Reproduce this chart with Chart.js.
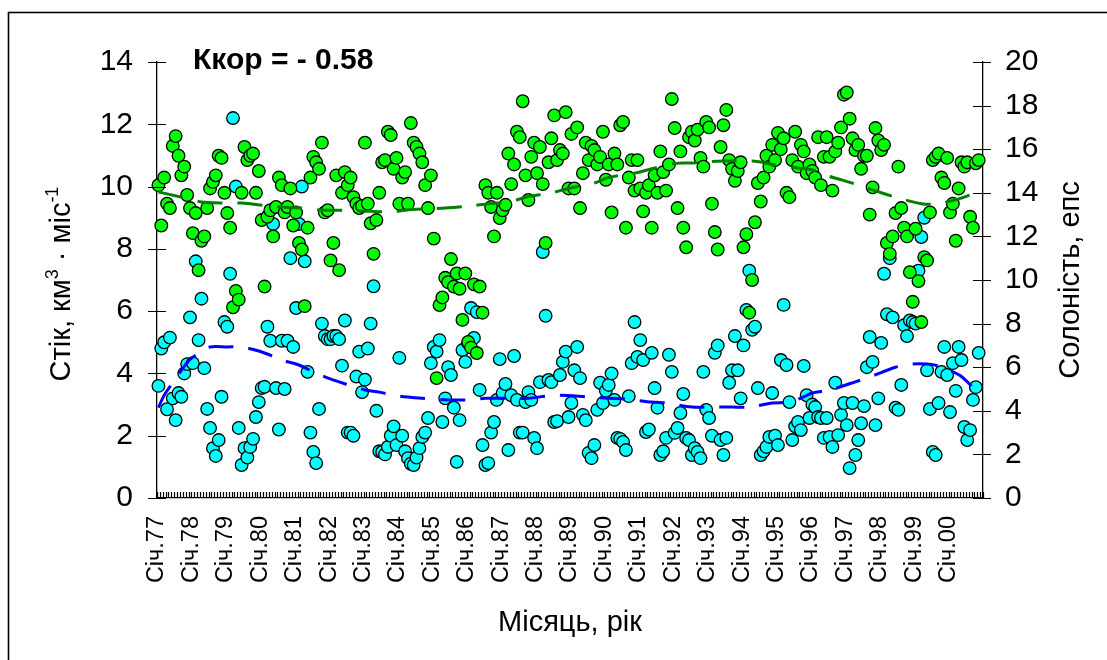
<!DOCTYPE html>
<html>
<head>
<meta charset="utf-8">
<script src="https://cdn.jsdelivr.net/npm/chart.js@4.4.1/dist/chart.umd.min.js"></script>
<style>
  body { margin: 0; background: #fff; }
  #graph { display: block; }
</style>
</head>
<body>
<canvas id="graph" width="1107" height="660"></canvas>
<script>
// years shown under the January ticks
const years = ['77', '78', '79', '80', '81', '82', '83', '84', '85', '86', '87', '88',
               '89', '90', '91', '92', '93', '94', '95', '96', '97', '98', '99', '00'];

// monthly river flow, km3/month (one row per year, Jan..Dec)
const flow = [
  3.6, 4.8, 5.0, 2.85, 5.15, 3.2, 2.5, 3.37, 3.25, 4.0, 4.3, 5.8,
  4.33, 7.6, 5.07, 6.4, 4.17, 2.86, 2.25, 1.6, 1.35, 1.86, 3.25, 5.65,
  5.5, 7.2, 12.2, 10.0, 2.25, 1.06, 1.6, 1.3, 1.64, 1.9, 2.6, 3.08,
  3.53, 3.57, 5.5, 5.05, 8.8, 3.53, 2.2, 5.05, 3.5, 5.05, 7.7, 4.85,
  6.1, 8.8, 10.0, 7.6, 4.05, 2.1, 1.48, 1.12, 2.86, 5.6, 5.2, 5.1,
  5.1, 5.2, 5.2, 5.1, 4.25, 5.7, 2.1, 2.1, 2.0, 3.9, 4.7, 3.4,
  3.8, 4.8, 5.6, 6.8, 2.8, 1.5, 1.48, 1.4, 1.64, 2.0, 2.3, 1.7,
  4.5, 2.0, 1.5, 1.28, 1.1, 1.06, 1.3, 1.6, 1.96, 2.1, 2.57, 4.33,
  4.85, 4.7, 5.07, 2.44, 3.2, 4.2, 3.95, 2.9, 1.16, 2.5, 4.75, 4.37,
  4.98, 6.1, 5.14, 5.97, 3.47, 1.7, 1.06, 1.12, 2.1, 2.44, 3.15, 4.46,
  3.37, 3.66, 1.54, 3.3, 4.56, 3.15, 2.1, 2.1, 3.08, 3.4, 3.15, 1.93,
  1.6, 3.72, 7.9, 5.85, 3.79, 3.72, 2.44, 2.47, 3.95, 4.37, 4.7, 2.6,
  3.05, 4.1, 4.85, 3.85, 2.67, 2.5, 1.45, 1.28, 1.7, 2.83, 3.7, 3.05,
  3.44, 3.63, 4.0, 3.15, 1.93, 1.9, 1.8, 1.54, 3.27, 4.33, 5.65, 4.53,
  5.07, 4.43, 2.12, 2.2, 4.66, 3.53, 2.9, 1.38, 1.5, 1.93, 4.6, 4.05,
  2.09, 2.25, 2.73, 3.34, 1.93, 1.86, 1.38, 1.6, 1.48, 1.28, 4.05, 2.83,
  2.57, 2.0, 4.66, 4.9, 1.86, 1.38, 1.93, 3.7, 4.1, 5.2, 4.1, 3.2,
  4.9, 6.04, 7.3, 5.4, 5.5, 3.53, 1.38, 1.5, 1.64, 1.96, 3.37, 2.0,
  1.7, 4.43, 6.2, 4.27, 3.08, 1.86, 2.3, 2.44, 2.18, 4.24, 3.3, 2.57,
  3.0, 2.92, 2.6, 2.57, 1.93, 2.57, 1.96, 1.64, 3.7, 2.02, 2.67, 3.05,
  2.34, 0.96, 3.05, 1.38, 1.86, 2.4, 2.95, 4.2, 5.17, 4.37, 2.34, 3.2,
  4.98, 7.2, 5.9, 7.7, 5.8, 2.9, 2.83, 3.63, 5.55, 5.2, 5.7, 5.65,
  5.6, 7.3, 8.38, 9.0, 4.1, 2.86, 1.48, 1.38, 3.05, 4.05, 4.85, 3.95,
  2.76, 4.33, 3.44, 4.85, 4.43, 2.28, 1.86, 2.18, 3.15, 3.56, 4.66, null
];

// monthly salinity, psu
const salinity = [
  14.35, 12.5, 14.7, 13.5, 13.3, 16.15, 16.6, 15.7, 14.8, 15.2, 13.9, 13.3,
  12.15, 13.07, 10.45, 11.8, 12.0, 13.3, 14.2, 14.5, 14.8, 15.7, 15.6, 14.0,
  13.07, 12.4, 8.75, 9.5, 9.1, 14.0, 16.1, 15.5, 15.7, 15.8, 14.0, 15.0,
  12.75, 9.7, 12.9, 13.2, 12.0, 13.35, 14.7, 14.35, 13.1, 13.35, 14.2, 12.5,
  13.1, 11.7, 11.4, 8.8, 12.4, 14.7, 15.65, 15.4, 15.1, 16.3, 13.1, 13.2,
  10.9, 11.7, 14.8, 10.45, 14.0, 14.95, 14.35, 14.7, 13.8, 13.5, 13.3, 13.4,
  16.3, 13.5, 12.6, 11.2, 12.75, 14.0, 15.4, 15.5, 16.8, 16.65, 15.1, 15.6,
  13.5, 14.7, 14.95, 13.5, 17.2, 16.3, 16.1, 15.8, 15.4, 14.35, 13.3, 14.8,
  11.9, 5.5, 8.85, 9.2, 10.1, 9.9, 10.96, 9.7, 10.3, 9.6, 8.17, 10.3,
  7.16, 6.9, 9.8, 6.65, 9.7, 8.5, 14.35, 14.0, 13.35, 12.0, 14.0, 12.84,
  13.2, 13.45, 15.8, 14.4, 15.3, 16.8, 16.55, 18.2, 14.8, 13.67, 15.65, 16.3,
  14.9, 16.1, 14.4, 11.7, 15.4, 16.5, 17.55, 15.5, 15.96, 15.8, 17.7, 14.2,
  16.7, 14.2, 17.0, 13.3, 14.9, 16.3, 15.5, 16.15, 15.96, 15.3, 15.65, 16.8,
  14.6, 15.3, 13.1, 15.8, 15.3, 17.1, 17.25, 12.4, 14.7, 15.5, 14.1, 15.5,
  14.2, 13.15, 14.0, 14.35, 12.4, 14.8, 14.0, 15.9, 14.95, 14.1, 15.3, 18.3,
  16.97, 13.3, 15.9, 12.4, 11.5, 16.55, 16.8, 16.4, 16.9, 15.6, 15.2, 17.25,
  17.0, 13.5, 12.2, 11.4, 16.1, 17.1, 17.8, 15.5, 15.1, 14.55, 15.0, 15.4,
  11.5, 12.1, 8.5, 10.0, 12.65, 14.45, 13.6, 14.7, 15.7, 15.2, 16.2, 15.5,
  16.75, 16.0, 16.5, 14.0, 13.8, 15.5, 16.8, 15.2, 16.2, 15.9, 14.9, 15.3,
  15.0, 14.7, 16.55, 14.35, 15.65, 16.55, 15.65, 14.1, 15.9, 16.3, 17.0, 18.5,
  18.6, 17.4, 16.5, 15.96, 16.2, 15.1, 15.7, 15.7, 13.0, 14.25, 16.97, 16.4,
  15.96, 16.2, 11.7, 11.2, 12.0, 13.07, 15.2, 13.3, 12.4, 12.0, 10.36, 9.0,
  12.35, 9.95, 8.07, 11.05, 10.9, 13.1, 15.5, 15.65, 15.8, 14.7, 14.45, 15.6,
  13.1, 13.5, 11.8, 14.2, 15.4, 15.2, 15.4, 12.9, 12.4, 15.35, 15.5, null
];

// smoothed trends (month index -> value)
const flowTrendMonths = [0, 2, 5, 8, 11, 15, 18, 24, 29, 35, 40, 43, 49, 54, 58, 63, 68, 72, 77, 82,
  87, 92, 101, 108, 114, 120, 129, 135, 140, 149, 157, 163, 172, 177, 186, 191, 200, 206, 214, 220,
  225, 228, 234, 243, 249, 257, 263, 268, 272, 277, 280, 284];
const flowTrend = [2.9, 3.3, 3.7, 4.1, 4.45, 4.7, 4.85, 4.85, 4.85, 4.72, 4.55, 4.43, 4.27, 4.05, 3.89, 3.73, 3.58, 3.47, 3.4, 3.3,
  3.24, 3.2, 3.15, 3.15, 3.2, 3.2, 3.2, 3.27, 3.3, 3.25, 3.2, 3.18, 3.08, 3.05, 2.92, 2.92, 2.92, 2.92, 3.05, 3.08,
  3.25, 3.37, 3.47, 3.73, 3.92, 4.2, 4.3, 4.3, 4.24, 4.05, 3.9, 3.55];

const salTrendMonths = [0, 3, 8, 15, 23, 29, 38, 43, 50, 57, 66, 71, 81, 86, 93, 100, 109, 115, 123, 128,
  137, 143, 152, 157, 166, 172, 180, 186, 195, 208, 214, 223, 228, 234, 238, 243, 252, 257, 266, 272, 280, 285];
const salTrend = [14.04, 13.95, 13.8, 13.58, 13.53, 13.53, 13.4, 13.35, 13.3, 13.2, 13.2, 13.17, 13.12, 13.2, 13.26, 13.3, 13.4, 13.5, 13.6, 13.8,
  14.0, 14.2, 14.45, 14.7, 14.9, 15.1, 15.35, 15.37, 15.45, 15.45, 15.3, 15.14, 15.05, 14.75, 14.6, 14.4, 14.0, 13.8, 13.5, 13.5, 13.76, 14.0];

const corrText = 'Ккор = - 0.58';
const FONT = '"Liberation Sans", Arial, sans-serif';

const toXY = (arr) => arr.map((v, i) => ({ x: i, y: v }));
const pairXY = (xs, ys) => xs.map((m, i) => ({ x: m, y: ys[i] }));

// cross ticks on the value axes, month comb on the time axis, titles, frame
const decor = {
  id: 'decor',
  beforeDraw(chart) {
    const ctx = chart.ctx;
    ctx.save();
    ctx.fillStyle = '#fff';
    ctx.fillRect(0, 0, chart.width, chart.height);
    ctx.strokeStyle = '#000';
    ctx.lineWidth = 1.6;
    ctx.strokeRect(8.5, 12.5, 1300, 800);
    ctx.restore();
  },
  afterDraw(chart) {
    const ctx = chart.ctx;
    const area = chart.chartArea;
    const sx = chart.scales.x, sy = chart.scales.y, sy1 = chart.scales.y1;
    ctx.save();
    ctx.strokeStyle = '#000';
    ctx.lineWidth = 1.2;
    ctx.beginPath();
    sy.ticks.forEach(t => {
      const py = Math.round(sy.getPixelForValue(t.value)) + 0.5;
      ctx.moveTo(area.left - 9, py);
      ctx.lineTo(area.left + 9, py);
    });
    sy1.ticks.forEach(t => {
      const py = Math.round(sy1.getPixelForValue(t.value)) + 0.5;
      ctx.moveTo(area.right - 10, py);
      ctx.lineTo(area.right + 8, py);
    });
    for (let m = 0; m <= flow.length; m++) {
      const px = Math.round(sx.getPixelForValue(m - 0.5)) + 0.5;
      ctx.moveTo(px, area.bottom);
      ctx.lineTo(px, area.bottom - 6);
    }
    ctx.stroke();

    ctx.fillStyle = '#000';
    ctx.textBaseline = 'alphabetic';
    ctx.textAlign = 'left';
    ctx.font = 'bold 30px ' + FONT;
    ctx.fillText(corrText, 193, 69);

    ctx.font = '29px ' + FONT;
    ctx.textAlign = 'center';
    ctx.fillText('Місяць, рік', 570, 631);

    drawVertical(ctx, [
      { t: 'Стік, км' }, { t: '3', sup: true }, { t: ' · міс' }, { t: '-1', sup: true }
    ], 70, 284);
    drawVertical(ctx, [{ t: 'Солоність, епс' }], 1079, 280);
    ctx.restore();
  }
};

// text rotated to read bottom-to-top, centred on (bx, cy); bx is the baseline
function drawVertical(ctx, parts, bx, cy) {
  ctx.save();
  ctx.translate(bx, cy);
  ctx.rotate(-Math.PI / 2);
  ctx.textAlign = 'left';
  let total = 0;
  parts.forEach(p => {
    ctx.font = (p.sup ? '18px ' : '29px ') + FONT;
    p.w = ctx.measureText(p.t).width;
    total += p.w;
  });
  let x = -total / 2;
  parts.forEach(p => {
    ctx.font = (p.sup ? '18px ' : '29px ') + FONT;
    ctx.fillText(p.t, x, p.sup ? -12 : 0);
    x += p.w;
  });
  ctx.restore();
}

const ctx = document.getElementById('graph').getContext('2d');
new Chart(ctx, {
  type: 'scatter',
  data: {
    datasets: [
      {
        label: 'Стік',
        data: toXY(flow),
        yAxisID: 'y',
        backgroundColor: '#00ffff',
        borderColor: '#000',
        borderWidth: 1.3,
        pointRadius: 6.3,
        clip: false,
        order: 4
      },
      {
        label: 'Солоність',
        data: toXY(salinity),
        yAxisID: 'y1',
        backgroundColor: '#00ff00',
        borderColor: '#000',
        borderWidth: 1.3,
        pointRadius: 6.3,
        clip: false,
        order: 3
      },
      {
        type: 'line',
        label: 'Стік, тренд',
        data: pairXY(flowTrendMonths, flowTrend),
        yAxisID: 'y',
        borderColor: '#0000ff',
        borderWidth: 3,
        borderDash: [25, 15],
        pointRadius: 0,
        tension: 0.3,
        fill: false,
        order: 2
      },
      {
        type: 'line',
        label: 'Солоність, тренд',
        data: pairXY(salTrendMonths, salTrend),
        yAxisID: 'y1',
        borderColor: '#008000',
        borderWidth: 3,
        borderDash: [25, 15],
        pointRadius: 0,
        tension: 0.3,
        fill: false,
        order: 1
      }
    ]
  },
  options: {
    responsive: false,
    animation: false,
    devicePixelRatio: 1,
    layout: { padding: { top: 62, left: 0, right: 0, bottom: 0 } },
    plugins: { legend: { display: false }, tooltip: { enabled: false } },
    scales: {
      x: {
        type: 'linear',
        position: 'bottom',
        min: -0.5,
        max: flow.length - 0.5,
        grid: { display: false, drawTicks: false },
        border: { display: true, color: '#000', width: 1.3 },
        afterBuildTicks: (axis) => {
          axis.ticks = years.map((y, i) => ({ value: i * 12 - 0.5 }));
        },
        afterFit: (axis) => { axis.height = 162; },
        ticks: {
          autoSkip: false,
          minRotation: 90,
          maxRotation: 90,
          padding: 18,
          color: '#000',
          font: { family: FONT, size: 23.5 },
          callback: (v) => 'Січ.' + years[Math.round((v + 0.5) / 12)]
        }
      },
      y: {
        position: 'left',
        min: 0,
        max: 14,
        grid: { display: false, drawTicks: false },
        border: { display: true, color: '#000', width: 1.3 },
        afterFit: (axis) => { axis.width = 157; },
        ticks: { stepSize: 2, padding: 24, color: '#000', font: { family: FONT, size: 30 } }
      },
      y1: {
        position: 'right',
        min: 0,
        max: 20,
        grid: { display: false, drawTicks: false },
        border: { display: true, color: '#000', width: 1.3 },
        afterFit: (axis) => { axis.width = 124; },
        ticks: { stepSize: 2, padding: 22, color: '#000', font: { family: FONT, size: 30 } }
      }
    }
  },
  plugins: [decor]
});
</script>
</body>
</html>
